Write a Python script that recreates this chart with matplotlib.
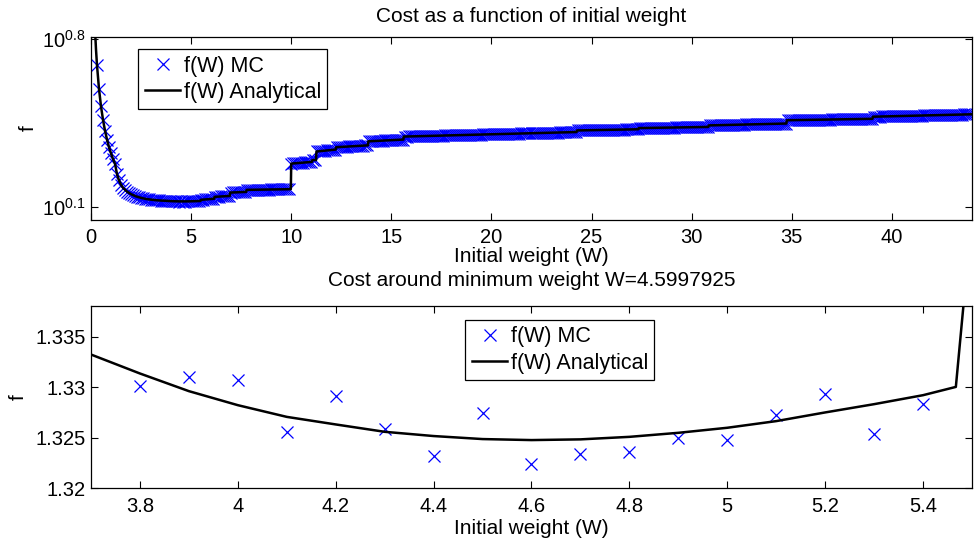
import numpy as np
import matplotlib
matplotlib.use("Agg")
import matplotlib.pyplot as plt
from matplotlib.ticker import NullLocator

plt.rcParams['font.family'] = ['Liberation Sans', 'DejaVu Sans']
plt.rcParams['mathtext.fontset'] = 'custom'
plt.rcParams['mathtext.rm'] = 'Liberation Sans'
plt.rcParams['mathtext.it'] = 'Liberation Sans:italic'

# ---------------- data: top panel ----------------
mc_start, mc_step = 0.3, 0.1
f_mc_top = (
    [4.90, 3.90, 3.30, 2.90, 2.61, 2.40, 2.23, 2.10, 1.99, 1.90]
    + [1.72, 1.62, 1.555, 1.51, 1.48, 1.455, 1.437, 1.42, 1.407, 1.395,
       1.386, 1.378, 1.37, 1.364, 1.358, 1.354, 1.35, 1.347, 1.344, 1.341,
       1.339, 1.337, 1.3355, 1.334, 1.3325]
    + [1.3301, 1.3310, 1.3307, 1.3256, 1.3291, 1.3259, 1.3232, 1.3275, 1.3224,
       1.3234, 1.3236, 1.3250, 1.3248, 1.3273, 1.3293, 1.3254, 1.3284]
    + [1.346, 1.348, 1.350, 1.352, 1.354, 1.356, 1.358]
    + [1.385, 1.387, 1.388, 1.390, 1.391, 1.393, 1.395, 1.396]
    + [1.443, 1.444, 1.445, 1.446, 1.448, 1.449, 1.450, 1.451]
    + [1.480, 1.480, 1.481, 1.481, 1.482, 1.482, 1.483, 1.483, 1.484, 1.484,
       1.485, 1.485, 1.486, 1.486, 1.487, 1.487, 1.488, 1.488, 1.489, 1.489,
       1.490, 1.490]
    + [1.905, 1.908, 1.911, 1.914, 1.917, 1.920, 1.924, 1.927, 1.930, 1.933, 1.936]
    + [1.969, 1.972]
    + [2.140, 2.144, 2.149, 2.153, 2.158, 2.162, 2.166, 2.171, 2.175, 2.180]
    + [2.230, 2.233, 2.235, 2.238, 2.241, 2.243, 2.246, 2.249, 2.251, 2.254,
       2.257, 2.259, 2.262, 2.265, 2.267, 2.270]
    + [2.360, 2.362, 2.365, 2.367, 2.369, 2.372, 2.374, 2.376, 2.379, 2.381,
       2.383, 2.386, 2.388, 2.390, 2.393, 2.395, 2.398, 2.400]
    + [2.470, 2.471, 2.473, 2.474, 2.475, 2.477, 2.478, 2.479, 2.480, 2.482,
       2.483, 2.484, 2.486, 2.487, 2.488, 2.490, 2.491, 2.492, 2.493, 2.495,
       2.496, 2.497, 2.499, 2.500, 2.501, 2.502, 2.504, 2.505, 2.506, 2.508,
       2.509, 2.510, 2.512, 2.513, 2.514, 2.515, 2.517, 2.518, 2.519, 2.521,
       2.522, 2.523, 2.524, 2.526, 2.527, 2.528, 2.530, 2.531, 2.532, 2.534,
       2.535, 2.536, 2.537, 2.539, 2.540, 2.541, 2.543, 2.544, 2.545, 2.546,
       2.548, 2.549, 2.550, 2.552, 2.553, 2.554, 2.555, 2.557, 2.558, 2.559,
       2.561, 2.562, 2.563, 2.565, 2.566, 2.567, 2.568, 2.570, 2.571, 2.572,
       2.574, 2.575, 2.576, 2.577, 2.579, 2.580]
    + [2.620, 2.621, 2.622, 2.623, 2.624, 2.625, 2.626, 2.627, 2.628, 2.629,
       2.630, 2.631, 2.632, 2.633, 2.634, 2.635, 2.636, 2.637, 2.638, 2.639,
       2.640, 2.641, 2.642, 2.643, 2.644, 2.645, 2.646, 2.647, 2.648, 2.649, 2.650]
    + [2.680, 2.681, 2.682, 2.683, 2.683, 2.684, 2.685, 2.686, 2.687, 2.688,
       2.689, 2.690, 2.690, 2.691, 2.692, 2.693, 2.694, 2.695, 2.696, 2.697,
       2.698, 2.699, 2.699, 2.700, 2.701, 2.702, 2.703, 2.704, 2.705, 2.706,
       2.706, 2.707, 2.708, 2.709, 2.710]
    + [2.750, 2.751, 2.753, 2.754, 2.755, 2.757, 2.758, 2.759, 2.761, 2.762,
       2.763, 2.764, 2.766, 2.767, 2.768, 2.770, 2.771, 2.772, 2.774, 2.775,
       2.776, 2.778, 2.779, 2.780, 2.782, 2.783, 2.784, 2.786, 2.787, 2.788,
       2.789, 2.791, 2.792, 2.793, 2.795, 2.796, 2.797, 2.799, 2.800]
    + [2.890, 2.891, 2.892, 2.893, 2.894, 2.895, 2.896, 2.897, 2.898, 2.899,
       2.900, 2.901, 2.901, 2.902, 2.903, 2.904, 2.905, 2.906, 2.907, 2.908,
       2.909, 2.910, 2.911, 2.912, 2.912, 2.913, 2.914, 2.915, 2.916, 2.917,
       2.918, 2.919, 2.920, 2.921, 2.922, 2.923, 2.923, 2.924, 2.925, 2.926,
       2.927, 2.928, 2.930]
    + [2.990, 2.991, 2.993, 2.994, 2.996, 2.997, 2.999, 3.000, 3.001, 3.003,
       3.004, 3.006, 3.007, 3.009, 3.010, 3.011, 3.013, 3.014, 3.016, 3.017,
       3.019, 3.020, 3.021, 3.023, 3.024, 3.026, 3.027, 3.029, 3.030, 3.031,
       3.033, 3.034, 3.036, 3.037, 3.039, 3.040, 3.041, 3.043, 3.044, 3.046,
       3.047, 3.049, 3.050, 3.051, 3.053, 3.054, 3.056, 3.057, 3.059, 3.060]
)
w_mc_top = np.round(mc_start + mc_step * np.arange(len(f_mc_top)), 2)

w_an_top = [0.20, 0.25, 0.30, 0.40, 0.50, 0.60, 0.70, 0.80, 0.90, 1.00,
            1.10, 1.20, 1.30, 1.40, 1.50, 1.60, 1.80, 2.00, 2.25, 2.50,
            2.75, 3.00, 3.25, 3.50, 3.70, 3.80, 4.00, 4.20, 4.40, 4.60,
            4.80, 5.00, 5.20, 5.40, 5.47, 5.49, 6.15, 6.17, 6.93, 6.95,
            7.75, 7.77, 9.98, 10.00, 11.03, 11.05, 11.24, 11.26, 12.22, 12.24,
            13.83, 13.85, 15.60, 15.62, 24.25, 24.27, 27.33, 27.35, 30.83, 30.85,
            34.73, 34.75, 39.03, 39.05, 44.00]
f_an_top = [6.90, 5.70, 4.90, 3.90, 3.30, 2.90, 2.61, 2.40, 2.23, 2.10,
            1.99, 1.90, 1.72, 1.62, 1.555, 1.51, 1.455, 1.42, 1.39, 1.37,
            1.356, 1.347, 1.340, 1.3355, 1.3333, 1.3314, 1.3282, 1.3263, 1.3252, 1.3248,
            1.3251, 1.3260, 1.3275, 1.3292, 1.3300, 1.345, 1.359, 1.384, 1.396, 1.442,
            1.451, 1.480, 1.490, 1.905, 1.936, 1.969, 1.972, 2.140, 2.180, 2.230,
            2.270, 2.360, 2.400, 2.470, 2.580, 2.620, 2.650, 2.680, 2.710, 2.750,
            2.800, 2.890, 2.930, 2.990, 3.060]

# ---------------- data: bottom panel ----------------
w_mc_bot = [3.8, 3.9, 4.0, 4.1, 4.2, 4.3, 4.4, 4.5, 4.6, 4.7, 4.8, 4.9, 5.0,
            5.1, 5.2, 5.3, 5.4]
f_mc_bot = [1.3301, 1.3310, 1.3307, 1.3256, 1.3291, 1.3259, 1.3232, 1.3275,
            1.3224, 1.3234, 1.3236, 1.3250, 1.3248, 1.3273, 1.3293, 1.3254, 1.3284]
w_an_bot = [3.70, 3.80, 3.90, 4.00, 4.10, 4.20, 4.30, 4.40, 4.50, 4.60, 4.70,
            4.80, 4.90, 5.00, 5.10, 5.20, 5.30, 5.40, 5.467, 5.49]
f_an_bot = [1.33326, 1.33138, 1.32963, 1.32824, 1.32708, 1.32633, 1.32560,
            1.32518, 1.32488, 1.32478, 1.32485, 1.32510, 1.32550, 1.32600,
            1.32666, 1.32752, 1.32834, 1.32923, 1.33005, 1.3420]

top_xticks = [0, 5, 10, 15, 20, 25, 30, 35, 40]
top_yticks_exp = [0.1, 0.8]
bot_xticks = [3.8, 4.0, 4.2, 4.4, 4.6, 4.8, 5.0, 5.2, 5.4]
bot_xticklabels = ['3.8', '4', '4.2', '4.4', '4.6', '4.8', '5', '5.2', '5.4']
bot_yticks = [1.32, 1.325, 1.33, 1.335]
bot_yticklabels = ['1.32', '1.325', '1.33', '1.335']

title_top = 'Cost as a function of initial weight'
title_bot = 'Cost around minimum weight W=4.5997925'
xlabel = 'Initial weight (W)'
ylabel = 'f'

# ---------------- figure ----------------
FS = 15
FT = 14.5
FL = 15.5
W, H = 977, 543
fig = plt.figure(figsize=(W / 100, H / 100), dpi=100)
ax1 = fig.add_axes([91 / W, 1 - 220 / H, 881 / W, 183 / H])
ax2 = fig.add_axes([91 / W, 1 - 488.3 / H, 881 / W, 182.6 / H])

mc_kw = dict(linestyle='none', marker='x', color='blue', markersize=8,
             markeredgewidth=0.9)
an_kw = dict(linestyle='-', color='black', linewidth=1.8)

ax1.plot(w_mc_top, f_mc_top, label='f(W) MC', **mc_kw)
ax1.plot(w_an_top, f_an_top, label='f(W) Analytical', **an_kw)
ax1.set_yscale('log')
ax1.set_xlim(0, 44)
ax1.set_ylim(10 ** 0.0445, 10 ** 0.8083)
ax1.set_xticks(top_xticks)
ax1.set_xticklabels([str(t) for t in top_xticks])
ax1.set_yticks([10 ** e for e in top_yticks_exp])
ax1.set_yticklabels([r'$\mathregular{10^{%g}}$' % e for e in top_yticks_exp])
ax1.yaxis.set_minor_locator(NullLocator())
ax1.set_title(title_top, fontsize=FS, pad=11)
ax1.set_xlabel(xlabel, fontsize=FS, labelpad=-0.5)
ax1.set_ylabel(ylabel, fontsize=FS, labelpad=3)

ax2.plot(w_mc_bot, f_mc_bot, label='f(W) MC', **mc_kw)
ax2.plot(w_an_bot, f_an_bot, label='f(W) Analytical', **an_kw)
ax2.set_xlim(3.7, 5.5)
ax2.set_ylim(1.32, 1.3381)
ax2.set_xticks(bot_xticks)
ax2.set_xticklabels(bot_xticklabels)
ax2.set_yticks(bot_yticks)
ax2.set_yticklabels(bot_yticklabels)
ax2.set_title(title_bot, fontsize=FS, pad=14)
ax2.set_xlabel(xlabel, fontsize=FS, labelpad=2.5)
ax2.set_ylabel(ylabel, fontsize=FS, labelpad=5)

for ax in (ax1, ax2):
    ax.tick_params(direction='in', top=True, right=True, length=5, width=0.8,
                   labelsize=FT, pad=4)
    ax.tick_params(axis='x', pad=6)
    for s in ax.spines.values():
        s.set_linewidth(0.9)

leg_kw = dict(fontsize=FL, frameon=True, fancybox=False, edgecolor='black',
              framealpha=1, borderaxespad=0, handlelength=1.65,
              handletextpad=0.15, labelspacing=0.25, borderpad=0.3)
l1 = ax1.legend(loc='upper left', bbox_to_anchor=(0.0537, 0.934), **leg_kw)
l2 = ax2.legend(loc='upper left', bbox_to_anchor=(0.425, 0.922), **leg_kw)
for l in (l1, l2):
    l.get_frame().set_linewidth(0.9)

fig.savefig('out.png', dpi=100)
